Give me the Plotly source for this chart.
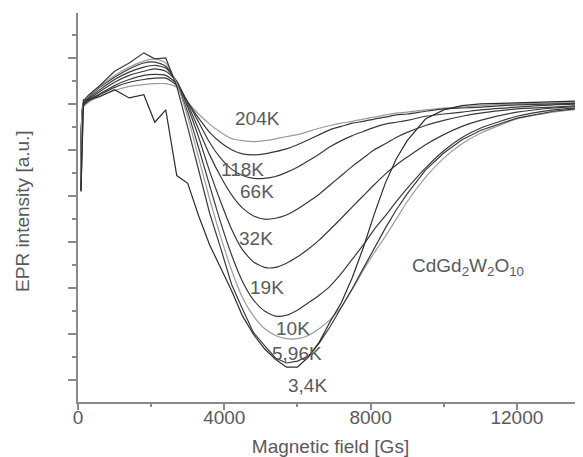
import plotly.graph_objects as go

# Magnetic field grid [Gs]
field = [80, 150, 300, 600, 1000, 1400, 1800, 2100, 2400, 2700, 3000, 3300, 3600, 3900,
         4200, 4500, 4800, 5100, 5400, 5700, 6000, 6300, 6600, 6900, 7200, 7500, 7800,
         8100, 8400, 8700, 9000, 9500, 10000, 10500, 11000, 12000, 13000, 14000]

# EPR intensity [a.u.] for each temperature
epr_204K = [-1.73, -0.07, 0.04, 0.16, 0.29, 0.38, 0.42, 0.44, 0.44, 0.36, 0.04, -0.22, -0.44, -0.62,
            -0.76, -0.80, -0.82, -0.80, -0.76, -0.71, -0.67, -0.60, -0.53, -0.47, -0.42, -0.38, -0.33,
            -0.29, -0.24, -0.20, -0.18, -0.13, -0.09, -0.07, -0.04, 0.00, 0.02, 0.04]
epr_150K = [-1.78, -0.04, 0.07, 0.20, 0.36, 0.47, 0.53, 0.56, 0.56, 0.40, 0.04, -0.31, -0.62, -0.84,
            -1.00, -1.09, -1.11, -1.09, -1.04, -0.98, -0.89, -0.78, -0.67, -0.56, -0.49, -0.42, -0.38,
            -0.33, -0.29, -0.24, -0.22, -0.16, -0.11, -0.09, -0.07, -0.02, 0.00, 0.02]
epr_118K = [-1.80, -0.02, 0.09, 0.22, 0.40, 0.53, 0.62, 0.64, 0.62, 0.44, 0.04, -0.40, -0.84, -1.18,
            -1.42, -1.56, -1.62, -1.62, -1.58, -1.49, -1.38, -1.24, -1.09, -0.93, -0.80, -0.69, -0.60,
            -0.51, -0.44, -0.40, -0.36, -0.27, -0.22, -0.18, -0.13, -0.07, -0.02, 0.00]
epr_66K = [-1.82, 0.00, 0.11, 0.27, 0.47, 0.62, 0.71, 0.76, 0.71, 0.49, 0.00, -0.56, -1.11, -1.58,
           -1.98, -2.27, -2.44, -2.51, -2.49, -2.42, -2.29, -2.13, -1.96, -1.76, -1.56, -1.36, -1.18,
           -1.00, -0.87, -0.73, -0.62, -0.47, -0.36, -0.27, -0.20, -0.11, -0.07, -0.02]
epr_32K = [-1.84, 0.02, 0.13, 0.31, 0.53, 0.69, 0.80, 0.84, 0.78, 0.49, -0.07, -0.73, -1.47, -2.13,
           -2.73, -3.18, -3.44, -3.56, -3.56, -3.47, -3.33, -3.16, -2.96, -2.73, -2.49, -2.24, -2.00,
           -1.76, -1.53, -1.33, -1.16, -0.89, -0.67, -0.49, -0.36, -0.18, -0.09, -0.04]
epr_19K = [-1.87, 0.04, 0.16, 0.36, 0.58, 0.76, 0.89, 0.91, 0.82, 0.44, -0.18, -0.96, -1.78, -2.58,
           -3.29, -3.87, -4.27, -4.51, -4.62, -4.60, -4.49, -4.33, -4.16, -3.96, -3.69, -3.38, -3.07,
           -2.73, -2.44, -2.13, -1.84, -1.40, -1.02, -0.73, -0.53, -0.27, -0.13, -0.07]
epr_10K = [-1.87, 0.04, 0.18, 0.38, 0.62, 0.80, 0.93, 0.98, 0.89, 0.44, -0.29, -1.18, -2.07, -2.89,
           -3.62, -4.22, -4.62, -4.89, -5.04, -5.11, -5.11, -5.04, -4.89, -4.69, -4.42, -4.04, -3.62,
           -3.24, -2.89, -2.51, -2.13, -1.60, -1.18, -0.87, -0.64, -0.33, -0.18, -0.09]
epr_5_96K = [-1.89, 0.07, 0.20, 0.40, 0.71, 0.89, 1.11, 0.98, 1.00, 0.38, -0.51, -1.43, -2.38, -3.14,
             -3.93, -4.47, -4.98, -5.26, -5.53, -5.64, -5.60, -5.49, -5.20, -4.84, -4.44, -4.02, -3.58,
             -3.13, -2.71, -2.31, -1.96, -1.44, -1.07, -0.78, -0.58, -0.31, -0.16, -0.07]
epr_3_4K = [-1.91, 0.09, 0.09, 0.16, 0.31, 0.13, 0.20, -0.40, -0.13, -1.56, -1.73, -2.44, -3.07, -3.56,
            -4.07, -4.62, -5.02, -5.33, -5.56, -5.73, -5.73, -5.51, -5.18, -4.73, -4.33, -3.78, -3.13,
            -2.40, -1.73, -1.20, -0.80, -0.33, -0.13, -0.04, 0.00, 0.02, 0.04, 0.07]

series = [
    ("204K", epr_204K, "#9c9c9c", "spline"),
    ("150K", epr_150K, "#3a3a3a", "spline"),
    ("118K", epr_118K, "#3a3a3a", "spline"),
    ("66K", epr_66K, "#3a3a3a", "spline"),
    ("32K", epr_32K, "#3a3a3a", "spline"),
    ("19K", epr_19K, "#3a3a3a", "spline"),
    ("10K", epr_10K, "#9c9c9c", "spline"),
    ("5,96K", epr_5_96K, "#3a3a3a", "linear"),
    ("3,4K", epr_3_4K, "#2c2c2c", "linear"),
]

# curve labels: text and anchor position (field [Gs], intensity [a.u.])
label_text = ["204K", "118K", "66K", "32K", "19K", "10K", "5,96K", "3,4K"]
label_x = [4894, 4511, 4894, 4866, 5167, 5878, 5988, 6261]
label_y = [-0.31, -1.42, -1.91, -2.93, -4.00, -4.89, -5.44, -6.13]

TXT = "#5a5a5a"
FONT = "Liberation Sans, Arial, sans-serif"

fig = go.Figure()
for name, vals, col, shape in series:
    fig.add_trace(go.Scatter(
        x=field, y=vals, mode="lines", name=name,
        line=dict(color=col, width=1.2, shape=shape, smoothing=0.6 if shape == "spline" else None),
        showlegend=False, hoverinfo="skip"))

for t, lx, ly in zip(label_text, label_x, label_y):
    fig.add_annotation(x=lx, y=ly, text=t, showarrow=False,
                       font=dict(size=19, color=TXT, family=FONT),
                       xanchor="center", yanchor="middle")

fig.add_annotation(x=9077, y=-3.56, text="CdGd<sub>2</sub>W<sub>2</sub>O<sub>10</sub>",
                   showarrow=False, xanchor="left", yanchor="middle",
                   font=dict(size=19, color=TXT, family=FONT))

fig.add_annotation(xref="paper", yref="paper", x=-0.111, y=0.491,
                   text="EPR intensity [a.u.]", textangle=-90, showarrow=False,
                   xanchor="center", yanchor="middle",
                   font=dict(size=19, color=TXT, family=FONT))

AX = "#8a8a8a"
fig.update_layout(
    width=575, height=449,
    margin=dict(l=70, r=0, t=5, b=55, autoexpand=False),
    paper_bgcolor="white", plot_bgcolor="white",
    font=dict(family=FONT, size=19, color=TXT),
    xaxis=dict(range=[0, 13807], showgrid=False, zeroline=False,
               showline=True, linecolor=AX, linewidth=2,
               ticks="outside", ticklen=6, tickwidth=1.5, tickcolor=AX,
               tick0=0, dtick=4000, tickformat="d", tickfont=dict(size=19, color=TXT),
               ticklabelstandoff=-9,
               minor=dict(dtick=2000, ticklen=3, ticks="outside", tickcolor=AX, tickwidth=1.5, showgrid=False),
               title=dict(text="Magnetic field [Gs]", font=dict(size=19, color=TXT), standoff=15)),
    yaxis=dict(range=[-6.489, 1.978], showgrid=False, zeroline=False,
               showline=True, linecolor=AX, linewidth=2,
               ticks="outside", ticklen=8, tickwidth=1.5, tickcolor=AX,
               tick0=0, dtick=1, showticklabels=False,
               minor=dict(dtick=0.5, ticklen=4, ticks="outside", tickcolor=AX, tickwidth=1.5, showgrid=False)),
)

fig.write_html("out.html")
